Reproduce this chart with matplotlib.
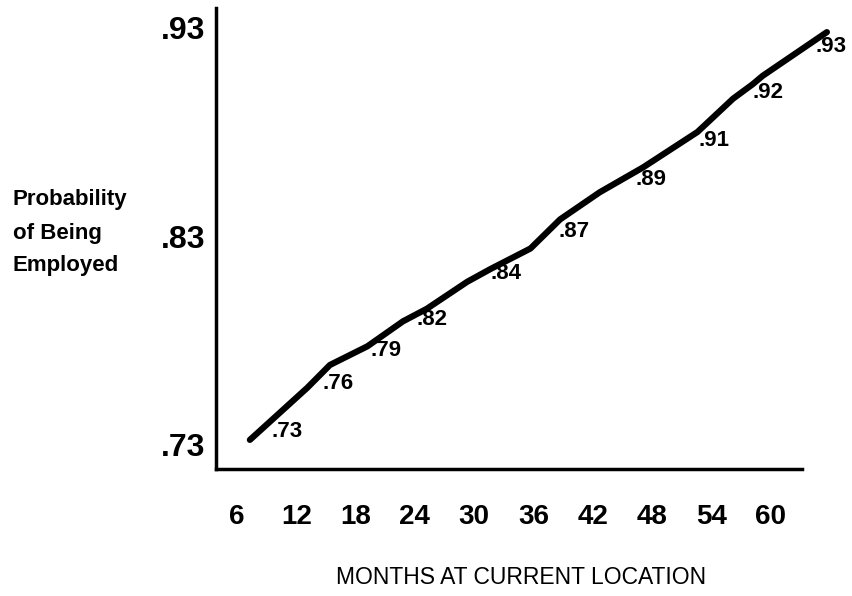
import matplotlib
matplotlib.use('Agg')
import matplotlib.pyplot as plt

plt.rcParams['font.family'] = ['Liberation Sans', 'DejaVu Sans']

# line (months, probability)
line_months = [7.3, 13.1, 15.4, 19.2, 22.8, 25.2, 29.3, 31.6, 35.7, 38.7,
               42.7, 47.1, 52.6, 56.2, 58.2, 59.2, 65.7]
line_probs = [.732, .757, .768, .777, .789, .795, .808, .814, .824, .838,
              .851, .863, .880, .896, .903, .907, .928]

# printed values along the line and where they sit
point_labels = ['.73', '.76', '.79', '.82', '.84', '.87', '.89', '.91', '.92', '.93']
label_months = [9.5, 14.6, 19.5, 24.2, 31.7, 38.5, 46.3, 52.7, 58.2, 64.5]
label_probs = [.736, .759, .775, .790, .812, .832, .857, .876, .899, .921]

month_ticks = [6, 12, 18, 24, 30, 36, 42, 48, 54, 60]
prob_ticks = [.73, .83, .93]

W, H = 853, 596
fig = plt.figure(figsize=(W / 100, H / 100), dpi=100)
# axes box in pixels: left, right, bottom, top
L, R, B, T = 216, 802, 469, 8
ax = fig.add_axes([L / W, (H - B) / H, (R - L) / W, (B - T) / H])

ax.plot(line_months, line_probs, color='black', lw=4.5, solid_capstyle='round',
        solid_joinstyle='round', clip_on=False)

for txt, m, p in zip(point_labels, label_months, label_probs):
    ax.text(m, p, txt, ha='left', va='center', fontsize=16, fontweight='bold')

ax.set_xlim(3.87, 63.18)
ax.set_ylim(.718, .9396)

ax.set_xticks(month_ticks)
ax.set_xticklabels([str(m) for m in month_ticks], fontsize=20, fontweight='bold')
ax.set_yticks(prob_ticks)
ax.set_yticklabels(['.73', '.83', '.93'], fontsize=23, fontweight='bold')
ax.tick_params(axis='x', length=0, pad=25)
ax.tick_params(axis='y', length=0, pad=8)

for side in ['top', 'right']:
    ax.spines[side].set_visible(False)
for side in ['left', 'bottom']:
    ax.spines[side].set_linewidth(2.5)
    ax.spines[side].set_capstyle('projecting')

fig.text(13 / W, 1 - 233 / H, 'Probability\nof Being\nEmployed', ha='left', va='center',
         fontsize=16, fontweight='bold', linespacing=1.75)

fig.text(521 / W, 1 - 578 / H, 'MONTHS AT CURRENT LOCATION', ha='center', va='center',
         fontsize=16.5)

fig.savefig('out.png', dpi=100, facecolor='white')
